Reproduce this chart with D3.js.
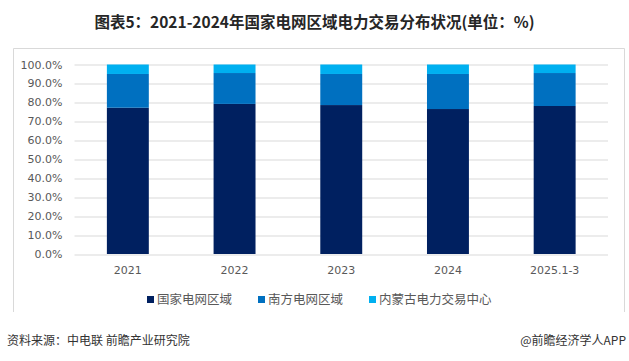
<!DOCTYPE html>
<html>
<head>
<meta charset="utf-8">
<script src="https://cdn.jsdelivr.net/npm/d3@7"></script>
<style>
  body { margin: 0; background: #fff; }
  text { font-family: "Noto Sans CJK SC", "DejaVu Sans", sans-serif; }
</style>
</head>
<body>
<div id="chart"></div>
<script>
// data
var years = ["2021", "2022", "2023", "2024", "2025.1-3"];
var seriesNames = ["国家电网区域", "南方电网区域", "内蒙古电力交易中心"];
var stateGrid = [77.2, 79.2, 78.6, 76.5, 78.1];
var southGrid = [17.8, 16.3, 16.4, 18.5, 17.4];
var innerMongolia = [5.0, 4.5, 5.0, 5.0, 4.5];
var yTicks = [0, 10, 20, 30, 40, 50, 60, 70, 80, 90, 100];

var colors = ["#002060", "#0070c0", "#00b0f0"];

var width = 629, height = 361;
var margin = { top: 64.5, right: 21, bottom: 107, left: 74.5 };
var innerW = width - margin.left - margin.right,
    innerH = height - margin.top - margin.bottom;

var svg = d3.select("#chart").append("svg")
    .attr("width", width)
    .attr("height", height);

// title
svg.append("text")
    .attr("x", width / 2)
    .attr("y", 28)
    .attr("text-anchor", "middle")
    .style("font-size", "15.5px")
    .style("font-weight", "bold")
    .style("fill", "#262626")
    .text("图表5：2021-2024年国家电网区域电力交易分布状况(单位：%)");

// frame (no bottom edge in the reference)
svg.append("path")
    .attr("d", "M13.5,312 V48.5 H624.5 V312")
    .attr("fill", "none")
    .attr("stroke", "#d9d9d9")
    .attr("stroke-width", 1);

var g = svg.append("g")
    .attr("transform", "translate(" + margin.left + "," + margin.top + ")");

var x = d3.scaleBand()
    .domain(years)
    .range([0, innerW])
    .paddingInner(0.607)
    .paddingOuter(0.3035);

var y = d3.scaleLinear()
    .domain([0, 100])
    .range([innerH, 0]);

// gridlines
g.append("g")
    .selectAll("line")
    .data(yTicks)
    .enter().append("line")
    .attr("x1", 0)
    .attr("x2", innerW)
    .attr("y1", d => Math.round(y(d)) + 0.5)
    .attr("y2", d => Math.round(y(d)) + 0.5)
    .attr("stroke", "#d9d9d9")
    .attr("stroke-width", 1);

// y axis labels
var yAxis = d3.axisLeft(y)
    .tickValues(yTicks)
    .tickSize(0)
    .tickPadding(12)
    .tickFormat(d => d.toFixed(1) + "%");

g.append("g")
    .attr("class", "y-axis")
    .call(yAxis)
    .call(s => s.select(".domain").remove())
    .selectAll("text")
    .style("font-size", "11px")
    .style("fill", "#595959")
    .style("font-family", "'DejaVu Sans', sans-serif");

// stacked data
var rows = years.map((yr, i) => ({
    year: yr,
    s0: stateGrid[i],
    s1: southGrid[i],
    s2: innerMongolia[i]
}));
var stack = d3.stack().keys(["s0", "s1", "s2"]);
var stacked = stack(rows);

g.selectAll(".layer")
    .data(stacked)
    .enter().append("g")
    .attr("class", "layer")
    .attr("fill", (d, i) => colors[i])
    .selectAll("rect")
    .data(d => d)
    .enter().append("rect")
    .attr("x", d => x(d.data.year))
    .attr("width", x.bandwidth())
    .attr("y", d => y(d[1]))
    .attr("height", d => y(d[0]) - y(d[1]));

// x axis
var xAxis = d3.axisBottom(x).tickSize(0).tickPadding(12);
g.append("g")
    .attr("class", "x-axis")
    .attr("transform", "translate(0," + innerH + ")")
    .call(xAxis)
    .call(s => s.select(".domain").remove())
    .selectAll("text")
    .style("font-size", "11px")
    .style("fill", "#595959")
    .style("font-family", "'DejaVu Sans', sans-serif");

// legend
var legendX = [147, 258, 369];
var legend = svg.append("g").attr("class", "legend");
seriesNames.forEach((name, i) => {
    legend.append("rect")
        .attr("x", legendX[i])
        .attr("y", 296)
        .attr("width", 7)
        .attr("height", 7)
        .attr("fill", colors[i]);
    legend.append("text")
        .attr("x", legendX[i] + 10)
        .attr("y", 304)
        .style("font-size", "12.5px")
        .style("fill", "#595959")
        .text(name);
});

// footer
svg.append("text")
    .attr("x", 7)
    .attr("y", 345)
    .style("font-size", "12px")
    .style("fill", "#333")
    .text("资料来源：中电联 前瞻产业研究院");

svg.append("text")
    .attr("x", 626)
    .attr("y", 345)
    .attr("text-anchor", "end")
    .style("font-size", "12px")
    .style("fill", "#333")
    .text("@前瞻经济学人APP");
</script>
</body>
</html>
